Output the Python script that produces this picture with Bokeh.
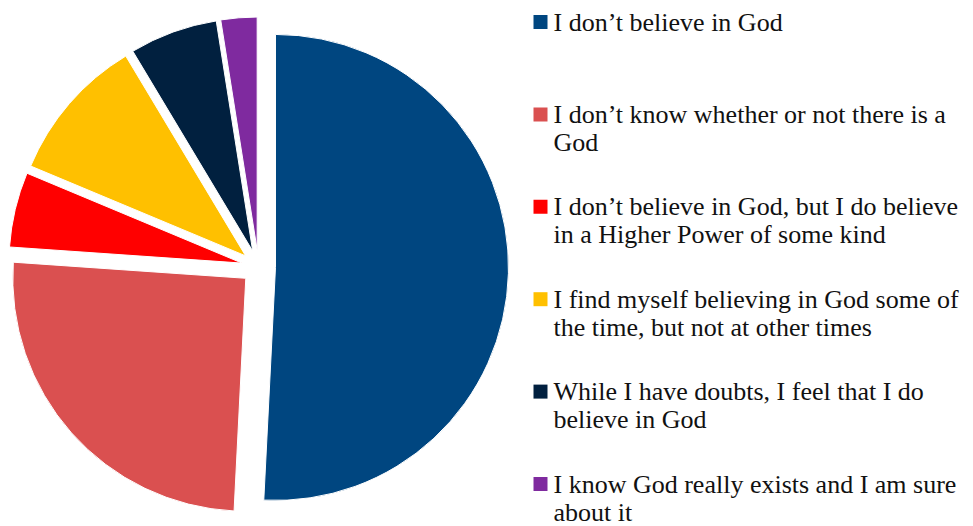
import math
from bokeh.plotting import figure
from bokeh.models import Range1d, ColumnDataSource
from bokeh.core.properties import value
from bokeh.embed import file_html
from bokeh.resources import INLINE

# ---- data ----
labels = [
    "I don\u2019t believe in God",
    "I don\u2019t know whether or not there is a\nGod",
    "I don\u2019t believe in God, but I do believe\nin a Higher Power of some kind",
    "I find myself believing in God some of\nthe time, but not at other times",
    "While I have doubts, I feel that I do\nbelieve in God",
    "I know God really exists and I am sure\nabout it",
]
shares = [50.8, 25.3, 5.2, 10.1, 6.1, 2.5]
colors = ["#004680", "#DA5050", "#FF0000", "#FFC000", "#01203F", "#7F2A9F"]

# ---- layout (pixels from top-left of the page) ----
W, H = 973, 526
cx, cy = 258, H - 266.5
R = 233
explode = 17

total = sum(shares)
starts, ends, xs, ys = [], [], [], []
cum = 0.0
for v in shares:
    a0 = math.pi / 2 - (cum + v) / total * 2 * math.pi
    a1 = math.pi / 2 - cum / total * 2 * math.pi
    mid = (a0 + a1) / 2
    starts.append(a0)
    ends.append(a1)
    xs.append(cx + explode * math.cos(mid))
    ys.append(cy + explode * math.sin(mid))
    cum += v

p = figure(width=W, height=H, output_backend="svg", toolbar_location=None,
           x_range=Range1d(0, W), y_range=Range1d(0, H),
           x_axis_type=None, y_axis_type=None,
           min_border_left=0, min_border_right=0, min_border_top=0, min_border_bottom=0)
p.min_border = 0
p.outline_line_color = None
p.grid.visible = False
p.background_fill_color = "white"
p.border_fill_color = "white"

src = ColumnDataSource(dict(x=xs, y=ys, start=starts, end=ends, color=colors))
p.wedge(x="x", y="y", radius=R, start_angle="start", end_angle="end",
        fill_color="color", line_color="white", line_width=1, source=src)

# legend
lx_sq, lx_txt = 540, 553
base0, step, line_h = 29.5, 92.4, 28
text_shift = 8
sq_x, sq_y, t_x, t_y, t_txt = [], [], [], [], []
for i, lab in enumerate(labels):
    b = base0 + i * step
    sq_x.append(lx_sq)
    sq_y.append(H - (b - 8))
    for j, line in enumerate(lab.split("\n")):
        t_x.append(lx_txt)
        t_y.append(H - (b + j * line_h - text_shift))
        t_txt.append(line)

p.rect(x=sq_x, y=sq_y, width=14, height=14, fill_color=colors, line_color=None)
p.text(x=t_x, y=t_y, text=t_txt, text_font=value("Liberation Serif"),
       text_font_size="26px", text_color="#111111", text_baseline="alphabetic",
       text_align="left")

open("out.html", "w").write(file_html(p, INLINE))
